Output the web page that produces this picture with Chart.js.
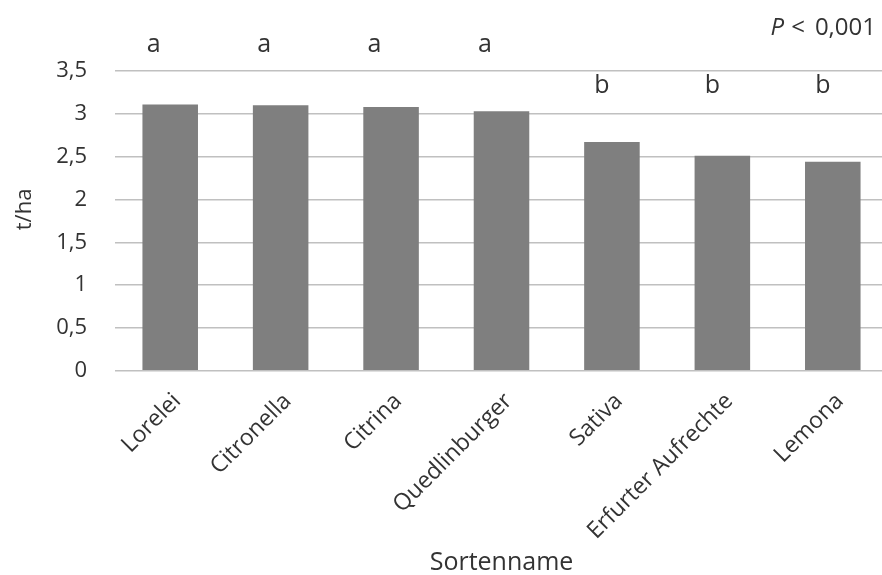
<!DOCTYPE html>
<html>
<head>
<meta charset="utf-8">
<script src="https://cdn.jsdelivr.net/npm/chart.js@4.4.0/dist/chart.umd.min.js"></script>
<style>
  html, body { margin: 0; padding: 0; background: #ffffff; overflow: hidden; }
  #wrap { position: relative; width: 892px; height: 578px; }
</style>
</head>
<body>
<div id="wrap"><canvas id="c"></canvas></div>
<script>
const categories = ['Lorelei', 'Citronella', 'Citrina', 'Quedlinburger', 'Sativa', 'Erfurter Aufrechte', 'Lemona'];
const yieldValues = [3.11, 3.10, 3.08, 3.03, 2.67, 2.51, 2.44];
const sigLetters = ['a', 'a', 'a', 'a', 'b', 'b', 'b'];
const yTicks = [0, 0.5, 1, 1.5, 2, 2.5, 3, 3.5];
const pSymbol = 'P';
const pRest = '< 0,001';

const FONT = "'Open Sans', 'Noto Sans', sans-serif";
const TXT = '#333333';

const letterPlugin = {
  id: 'letters',
  afterDatasetsDraw(chart) {
    const { ctx, scales } = chart;
    const letterLevel = { a: 3.81, b: 3.33 };
    const letterShift = { a: -0.15, b: -0.09 };
    ctx.save();
    ctx.font = '25px ' + FONT;
    ctx.fillStyle = TXT;
    ctx.textAlign = 'center';
    ctx.textBaseline = 'middle';
    sigLetters.forEach((l, i) => {
      const x = scales.x.getPixelForValue(i + letterShift[l]);
      const y = scales.y.getPixelForValue(letterLevel[l]);
      ctx.fillText(l, x, y);
    });
    // P value
    const yP = scales.y.getPixelForValue(4.0);
    const rightX = 876;
    ctx.textAlign = 'left';
    ctx.font = '24px ' + FONT;
    const parts = pRest.split(' ');
    const numW = ctx.measureText(parts[1]).width;
    const ltW = ctx.measureText(parts[0]).width;
    const numX = rightX - numW;
    const ltX = numX - 10 - ltW;
    ctx.fillText(parts[1], numX, yP);
    ctx.fillText(parts[0], ltX, yP);
    ctx.font = 'italic 24px ' + FONT;
    const pW = ctx.measureText(pSymbol).width;
    ctx.fillText(pSymbol, ltX - 7 - pW, yP);
    ctx.restore();
  }
};

new Chart(document.getElementById('c'), {
  type: 'bar',
  data: {
    labels: categories,
    datasets: [{
      data: yieldValues,
      backgroundColor: '#7f7f7f',
      borderWidth: 0,
      barPercentage: 1,
      categoryPercentage: 0.503
    }]
  },
  options: {
    responsive: true,
    maintainAspectRatio: false,
    animation: false,
    layout: { padding: { top: 71, right: 4, left: 0, bottom: 0 } },
    plugins: { legend: { display: false }, tooltip: { enabled: false } },
    scales: {
      x: {
        afterFit(scale) { scale.paddingLeft = 0; scale.paddingRight = 0; scale.height = scale.height - 10; },
        grid: { display: false },
        border: { display: false },
        ticks: {
          color: TXT,
          font: { family: FONT, size: 23 },
          maxRotation: 45,
          minRotation: 45,
          padding: 9,
          labelOffset: 7
        },
        title: {
          display: true,
          text: 'Sortenname',
          color: TXT,
          font: { family: FONT, size: 25 },
          padding: { top: 4, bottom: 0 }
        }
      },
      y: {
        min: 0,
        max: 3.5,
        afterBuildTicks(scale) { scale.ticks = yTicks.map(v => ({ value: v })); },
        afterFit(scale) { scale.width = 115; },
        grid: { color: '#c0c0c0', lineWidth: 1.5, drawTicks: false },
        border: { display: false },
        ticks: {
          color: TXT,
          font: { family: FONT, size: 22 },
          padding: 28,
          callback: v => String(v).replace('.', ',')
        },
        title: {
          display: true,
          text: '    t/ha',
          color: TXT,
          font: { family: FONT, size: 22 },
          padding: { top: 12, bottom: 15 }
        }
      }
    }
  },
  plugins: [letterPlugin]
});
</script>
</body>
</html>
